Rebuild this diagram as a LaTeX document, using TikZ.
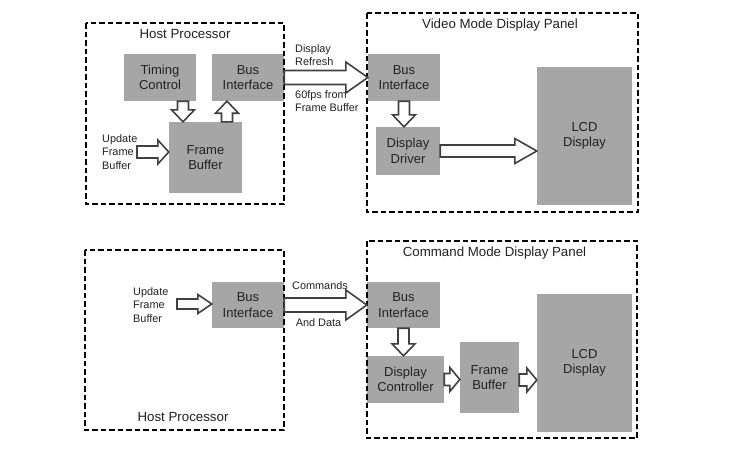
\documentclass[tikz,border=0pt]{standalone}
\usepackage{fontspec}
\setmainfont{Liberation Sans}
\usetikzlibrary{calc}
\definecolor{boxgray}{HTML}{A6A6A6}
\definecolor{txt}{HTML}{222222}
\definecolor{arrline}{HTML}{404040}
\tikzset{
  gbox/.style={fill=boxgray, draw=none, inner sep=0pt, align=center, text=txt,
     font=\fontsize{13}{15.5}\selectfont},
  frame/.style={draw=black, line width=1.6pt, dash pattern=on 5.5pt off 3pt},
  title/.style={text=txt, font=\fontsize{13.3}{15}\selectfont, inner sep=0pt},
  lbl/.style={text=txt, font=\fontsize{10.9}{13.2}\selectfont, align=left, inner sep=0pt},
  hol/.style={draw=arrline, fill=white, line width=1.6pt, line join=miter},
}
\newcommand\harrow[5]{\draw[hol] let \p1=(#1), \p2=(#2) in
 (\x1,{\y1+#3pt}) -- ({\x2-#5pt},{\y1+#3pt}) -- ({\x2-#5pt},{\y1+#4pt}) -- (\x2,\y1)
 -- ({\x2-#5pt},{\y1-#4pt}) -- ({\x2-#5pt},{\y1-#3pt}) -- (\x1,{\y1-#3pt}) -- cycle;}
\newcommand\darrow[5]{\draw[hol] let \p1=(#1), \p2=(#2) in
 ({\x1-#3pt},\y1) -- ({\x1-#3pt},{\y2+#5pt}) -- ({\x1-#4pt},{\y2+#5pt}) -- (\x1,\y2)
 -- ({\x1+#4pt},{\y2+#5pt}) -- ({\x1+#3pt},{\y2+#5pt}) -- ({\x1+#3pt},\y1) -- cycle;}
\newcommand\uarrow[5]{\draw[hol] let \p1=(#1), \p2=(#2) in
 ({\x1-#3pt},\y1) -- ({\x1-#3pt},{\y2-#5pt}) -- ({\x1-#4pt},{\y2-#5pt}) -- (\x1,\y2)
 -- ({\x1+#4pt},{\y2-#5pt}) -- ({\x1+#3pt},{\y2-#5pt}) -- ({\x1+#3pt},\y1) -- cycle;}
\begin{document}
\begin{tikzpicture}[x=1pt,y=-1pt]
\useasboundingbox[fill=white] (0,0) rectangle (730,455);

% ---------- top: video mode ----------
\node[gbox, minimum width=72pt, minimum height=47pt] (timing) at (160,77.5) {Timing\\Control};
\node[gbox, minimum width=72pt, minimum height=47pt] (bush1) at (248,77.5) {Bus\\Interface};
\node[gbox, minimum width=73pt, minimum height=71pt] (fb1) at (205.5,157.5) {Frame\\Buffer};
\node[gbox, minimum width=72pt, minimum height=47pt] (busp1) at (404,77.5) {Bus\\Interface};
\node[gbox, minimum width=64pt, minimum height=48pt] (driver) at (408,151) {Display\\Driver};
\node[gbox, minimum width=95pt, minimum height=138pt] (lcd1) at (584.5,136) {LCD\\Display};

\draw[frame] (86,23) rectangle (284,204);
\draw[frame] (367,13) rectangle (638,212);
\node[title] (host1t) at (185,34) {Host Processor};
\node[title] (panel1t) at (500,25) {Video Mode Display Panel};

\node[lbl, anchor=west] (upd1) at (102,152) {Update\\Frame\\Buffer};
\coordinate (upd1s) at (137,152);
\node[lbl, anchor=west] (refresh) at (295,55.5) {Display\\Refresh};
\node[lbl, anchor=west] (fps) at (295,101) {60fps from\\Frame Buffer};

\harrow{upd1s}{fb1.west}{6}{12}{11}
\darrow{[xshift=23pt]timing.south}{fb1.north}{5.5}{11.5}{12}
\uarrow{[xshift=21.5pt]fb1.north}{bush1.south}{5.5}{11.5}{12}
\harrow{bush1.east}{busp1.west}{7}{15.5}{22}
\darrow{busp1.south}{driver.north}{5.5}{11.5}{12}
\harrow{driver.east}{lcd1.west}{6}{12.5}{22}

% ---------- bottom: command mode ----------
\node[gbox, minimum width=72pt, minimum height=46pt] (bush2) at (248,305) {Bus\\Interface};
\node[gbox, minimum width=73pt, minimum height=46pt] (busp2) at (403.5,305) {Bus\\Interface};
\node[gbox, minimum width=77pt, minimum height=47pt] (ctrl) at (405.5,379.5) {Display\\Controller};
\node[gbox, minimum width=59pt, minimum height=71pt] (fb2) at (489.5,377.5) {Frame\\Buffer};
\node[gbox, minimum width=95pt, minimum height=138pt] (lcd2) at (584.5,363) {LCD\\Display};

\draw[frame] (85,250) rectangle (284,430);
\draw[frame] (367,241) rectangle (637,438);
\node[title] (host2t) at (183,417) {Host Processor};
\node[title] (panel2t) at (494.5,253) {Command Mode Display Panel};

\node[lbl, anchor=west] (upd2) at (133,305) {Update\\Frame\\Buffer};
\coordinate (upd2s) at (177,304);
\node[lbl] (cmds) at (320,286) {Commands};
\node[lbl] (anddata) at (318.5,323) {And Data};

\harrow{upd2s}{bush2.west}{5}{9.5}{14}
\harrow{bush2.east}{busp2.west}{7}{15}{21}
\darrow{busp2.south}{ctrl.north}{5.5}{11.5}{12}
\harrow{ctrl.east}{fb2.west}{6}{12}{10}
\harrow{[yshift=-2.5pt]fb2.east}{lcd2.west}{6}{12}{10}
\end{tikzpicture}
\end{document}
